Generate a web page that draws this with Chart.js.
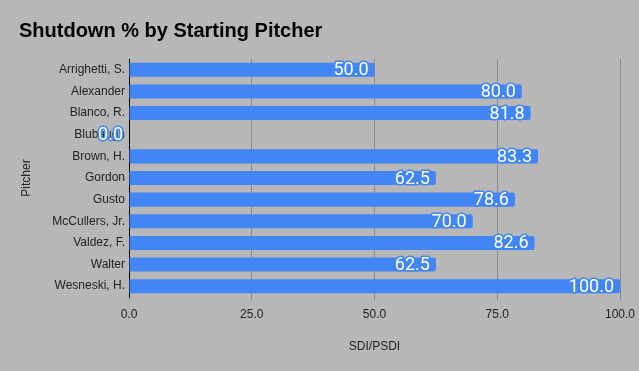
<!DOCTYPE html>
<html>
<head>
<meta charset="utf-8">
<script src="https://cdn.jsdelivr.net/npm/chart.js@4.4.1/dist/chart.umd.min.js"></script>
<style>
  html, body { margin: 0; padding: 0; background: #b7b7b7; }
</style>
</head>
<body>
<canvas id="chart" width="639" height="371"></canvas>
<script>
const pitchers = ["Arrighetti, S.", "Alexander", "Blanco, R.", "Blubaugh", "Brown, H.", "Gordon",
  "Gusto", "McCullers, Jr.", "Valdez, F.", "Walter", "Wesneski, H."];
const shutdownPct = [50.0, 80.0, 81.8, 0.0, 83.3, 62.5, 78.6, 70.0, 82.6, 62.5, 100.0];
const xTicks = [0, 25, 50, 75, 100];

const barBlue = "#4285f4";

// grey page fill behind everything
const bgPlugin = {
  id: "bg",
  beforeDraw(chart) {
    const c = chart.ctx;
    c.save();
    c.fillStyle = "#b7b7b7";
    c.fillRect(0, 0, chart.width, chart.height);
    c.restore();
  }
};

// white value labels at the end of each bar
const valueLabels = {
  id: "valueLabels",
  afterDatasetsDraw(chart) {
    const c = chart.ctx;
    const meta = chart.getDatasetMeta(0);
    c.save();
    c.font = "18px Roboto";
    c.textAlign = "right";
    c.textBaseline = "middle";
    c.lineJoin = "round";
    c.lineWidth = 3;
    c.strokeStyle = barBlue;
    c.fillStyle = "#ffffff";
    meta.data.forEach((bar, i) => {
      const txt = shutdownPct[i].toFixed(1);
      c.strokeText(txt, bar.x - 6, bar.y + 1);
      c.fillText(txt, bar.x - 6, bar.y + 1);
    });
    c.restore();
  }
};

const tickFont = { family: "'Liberation Sans', Arial, sans-serif", size: 12 };

new Chart(document.getElementById("chart"), {
  type: "bar",
  data: {
    labels: pitchers,
    datasets: [{
      data: shutdownPct,
      backgroundColor: barBlue,
      borderRadius: 2,
      barPercentage: 0.65,
      categoryPercentage: 1
    }]
  },
  options: {
    indexAxis: "y",
    responsive: false,
    animation: false,
    layout: { padding: { left: 19, right: 19, top: 0, bottom: 17 } },
    plugins: {
      legend: { display: false },
      tooltip: { enabled: false },
      title: {
        display: true,
        text: "Shutdown % by Starting Pitcher",
        align: "start",
        color: "#000",
        font: { family: "'Liberation Sans', Arial, sans-serif", size: 20, weight: "bold" },
        padding: { top: 19, bottom: 16 }
      }
    },
    scales: {
      x: {
        min: 0,
        max: 100,
        afterBuildTicks(scale) {
          scale.ticks = xTicks.map(v => ({ value: v }));
        },
        afterFit(scale) {
          scale.height = 57;
          scale.paddingRight = 0;
          scale.paddingLeft = 0;
        },
        ticks: {
          color: "#222",
          font: tickFont,
          padding: 7,
          callback: v => Number(v).toFixed(1)
        },
        grid: { color: "#8a8a8a", tickLength: 3 },
        border: { display: false },
        title: {
          display: true,
          text: "SDI/PSDI",
          color: "#222",
          font: tickFont,
          padding: { top: 19, bottom: 0 }
        }
      },
      y: {
        afterFit(scale) { scale.width = 110; },
        ticks: { color: "#222", font: tickFont, padding: 4, autoSkip: false },
        grid: { display: false, drawTicks: false, tickLength: 0 },
        border: { display: true, color: "#000" },
        title: {
          display: true,
          text: "Pitcher",
          color: "#222",
          font: tickFont,
          padding: { top: 0, bottom: 0 }
        }
      }
    }
  },
  plugins: [bgPlugin, valueLabels]
});
</script>
</body>
</html>
